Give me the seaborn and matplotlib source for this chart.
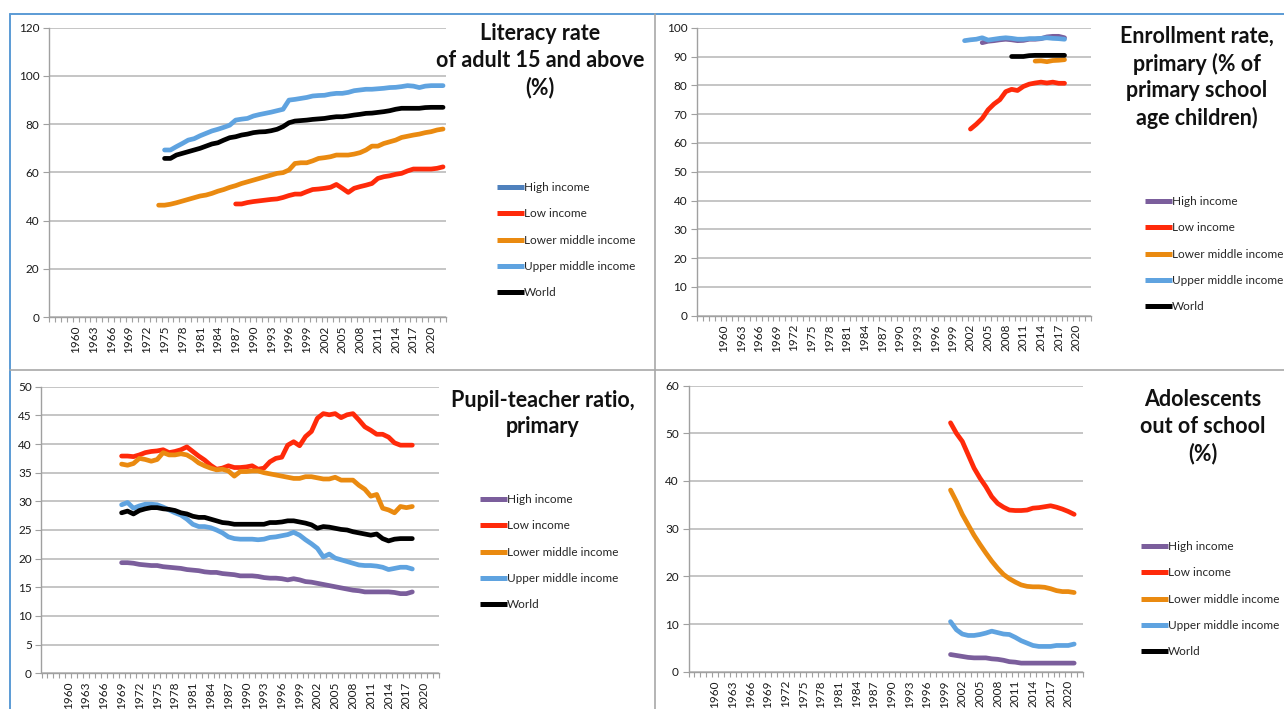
import numpy as np
import pandas as pd
import matplotlib
matplotlib.use('Agg')
import matplotlib.pyplot as plt
from matplotlib.lines import Line2D
import seaborn as sns

# ---- data ----
groups = ['High income', 'Low income', 'Lower middle income',
          'Upper middle income', 'World']

# literacy rate, adult 15+ (%)
lit_years_upper = list(range(1975, 2023))
lit_upper = [69.3, 69.3, 70.7, 72, 73.4, 74, 75.2, 76.2, 77.2, 77.9,
             78.7, 79.6, 81.7, 82.1, 82.4, 83.4, 84, 84.5, 85, 85.6,
             86.2, 90, 90.3, 90.7, 91.1, 91.7, 91.9, 92, 92.5, 92.8,
             92.8, 93.2, 93.9, 94.2, 94.5, 94.5, 94.7, 94.9, 95.2, 95.3,
             95.6, 96, 95.8, 95.2, 95.8, 96, 96, 96]
lit_years_world = list(range(1975, 2023))
lit_world = [65.8, 65.8, 67.2, 67.9, 68.6, 69.3, 70, 70.9, 71.8, 72.3,
             73.4, 74.4, 74.8, 75.5, 75.9, 76.5, 76.8, 76.9, 77.3, 77.9,
             79, 80.6, 81.3, 81.5, 81.7, 82, 82.2, 82.4, 82.8, 83.1,
             83.1, 83.4, 83.8, 84.1, 84.5, 84.6, 84.9, 85.2, 85.6, 86.2,
             86.6, 86.6, 86.6, 86.6, 86.9, 87, 87, 87]
lit_years_lower = list(range(1974, 2023))
lit_lower = [46.4, 46.4, 46.8, 47.4, 48.1, 48.8, 49.5, 50.2, 50.6, 51.3,
             52.2, 52.9, 53.8, 54.5, 55.4, 56.1, 56.8, 57.5, 58.2, 58.9,
             59.6, 59.9, 61, 63.7, 64, 64, 64.8, 65.8, 66.1, 66.5,
             67.2, 67.2, 67.2, 67.6, 68.2, 69.3, 70.9, 70.9, 72, 72.7,
             73.4, 74.5, 75, 75.5, 75.9, 76.5, 76.9, 77.6, 78]
lit_years_low = list(range(1987, 2023))
lit_low = [46.9, 46.9, 47.5, 47.9, 48.2, 48.5, 48.8, 49, 49.6, 50.4,
           51, 51, 52, 52.9, 53.1, 53.4, 53.8, 55, 53.4, 51.7,
           53.4, 54.1, 54.7, 55.4, 57.5, 58.2, 58.6, 59.2, 59.6, 60.6,
           61.4, 61.4, 61.4, 61.4, 61.7, 62.3]

# enrollment rate, primary (%)
enr_years_upper = list(range(2001, 2019))
enr_upper = [95.5, 95.8, 96, 96.5, 95.7, 96, 96.3, 96.5, 96.3, 96,
             96, 96.2, 96.2, 96.3, 96.5, 96.3, 96.2, 96]
enr_years_high = list(range(2004, 2019))
enr_high = [94.8, 95.3, 95.5, 95.8, 96, 95.8, 95.5, 95.6, 96, 96,
            96.2, 96.8, 97, 97, 96.5]
enr_years_world = list(range(2009, 2019))
enr_world = [90, 90, 90, 90.3, 90.4, 90.4, 90.4, 90.4, 90.4, 90.4]
enr_years_lower = list(range(2013, 2019))
enr_lower = [88.4, 88.5, 88.2, 88.6, 88.7, 88.9]
enr_years_low = list(range(2002, 2019))
enr_low = [64.8, 66.5, 68.5, 71.5, 73.5, 75, 77.8, 78.6, 78.2, 79.6,
           80.4, 80.8, 81.1, 80.8, 81.1, 80.7, 80.7]

# pupil-teacher ratio, primary
ptr_years = list(range(1969, 2019))
ptr_low = [37.9, 37.9, 37.8, 38.1, 38.5, 38.7, 38.8, 39, 38.5, 38.7,
           39, 39.5, 38.7, 37.9, 37.2, 36.3, 35.6, 35.8, 36.2, 35.9,
           35.9, 36, 36.2, 35.6, 35.8, 36.9, 37.5, 37.7, 39.8, 40.4,
           39.7, 41.3, 42.2, 44.5, 45.3, 45.1, 45.3, 44.6, 45.1, 45.3,
           44.2, 43, 42.4, 41.7, 41.7, 41.2, 40.2, 39.8, 39.8, 39.8]
ptr_lower = [36.5, 36.3, 36.6, 37.5, 37.3, 37, 37.3, 38.5, 38.1, 38.1,
             38.3, 38.1, 37.5, 36.7, 36.2, 35.8, 35.5, 35.6, 35.3, 34.4,
             35.2, 35.2, 35.3, 35.3, 35, 34.8, 34.6, 34.4, 34.2, 34,
             34, 34.3, 34.3, 34.1, 33.9, 33.9, 34.2, 33.7, 33.7, 33.7,
             32.8, 32.1, 30.9, 31.2, 28.8, 28.5, 28, 29.1, 28.9, 29.1]
ptr_upper = [29.4, 29.8, 28.8, 29.2, 29.5, 29.5, 29.4, 29, 28.5, 28,
             27.6, 26.9, 26, 25.6, 25.6, 25.4, 25, 24.5, 23.8, 23.5,
             23.4, 23.4, 23.4, 23.3, 23.4, 23.7, 23.8, 24, 24.2, 24.6,
             24.1, 23.3, 22.6, 21.8, 20.3, 20.8, 20.1, 19.8, 19.5, 19.2,
             18.9, 18.8, 18.8, 18.7, 18.5, 18.1, 18.3, 18.5, 18.5, 18.2]
ptr_world = [28, 28.3, 27.8, 28.4, 28.7, 28.9, 28.9, 28.7, 28.6, 28.4,
             28, 27.8, 27.4, 27.2, 27.2, 26.9, 26.6, 26.3, 26.2, 26,
             26, 26, 26, 26, 26, 26.3, 26.3, 26.4, 26.6, 26.6,
             26.4, 26.2, 25.9, 25.3, 25.6, 25.5, 25.3, 25.1, 25, 24.7,
             24.5, 24.3, 24.1, 24.3, 23.5, 23.1, 23.4, 23.5, 23.5, 23.5]
ptr_high = [19.3, 19.3, 19.2, 19, 18.9, 18.8, 18.8, 18.6, 18.5, 18.4,
            18.3, 18.1, 18, 17.9, 17.7, 17.6, 17.6, 17.4, 17.3, 17.2,
            17, 17, 17, 16.9, 16.7, 16.6, 16.6, 16.5, 16.3, 16.5,
            16.3, 16, 15.9, 15.7, 15.5, 15.3, 15.1, 14.9, 14.7, 14.5,
            14.4, 14.2, 14.2, 14.2, 14.2, 14.2, 14.1, 13.9, 13.9, 14.2]

# adolescents out of school (%)
oos_years = list(range(2000, 2022))
oos_low = [52.2, 50, 48.3, 45.5, 42.7, 40.6, 38.8, 36.7, 35.3, 34.5,
           33.9, 33.8, 33.8, 33.9, 34.3, 34.4, 34.6, 34.8, 34.5, 34.1,
           33.6, 33]
oos_lower = [38.1, 35.7, 33, 30.8, 28.6, 26.7, 24.9, 23.2, 21.7, 20.4,
             19.5, 18.8, 18.2, 17.9, 17.8, 17.8, 17.7, 17.4, 17, 16.8,
             16.8, 16.6]
oos_upper = [10.5, 8.8, 7.9, 7.6, 7.6, 7.8, 8.1, 8.5, 8.2, 7.9,
             7.8, 7.2, 6.5, 6, 5.5, 5.3, 5.3, 5.3, 5.5, 5.5,
             5.5, 5.8]
oos_high = [3.6, 3.4, 3.2, 3, 2.9, 2.9, 2.9, 2.7, 2.6, 2.4,
            2.1, 2, 1.8, 1.8, 1.8, 1.8, 1.8, 1.8, 1.8, 1.8,
            1.8, 1.8]

year_labels = list(range(1960, 2021, 3))

colors = {'High income': '#7B5E9C', 'Low income': '#FF2A0A',
          'Lower middle income': '#EA8A10', 'Upper middle income': '#5FA3E0',
          'World': '#000000'}
colors_lit = dict(colors)
colors_lit['High income'] = '#4F81BD'


def long_df(parts):
    frames = []
    for name, yrs, vals in parts:
        frames.append(pd.DataFrame({'year': yrs, 'value': vals, 'group': name}))
    return pd.concat(frames, ignore_index=True)


sns.set_theme(style='white')
plt.rcParams['font.family'] = ['Lato', 'DejaVu Sans']

W, H = 1284, 709
fig = plt.figure(figsize=(W / 100, H / 100), dpi=100)


def px_rect(l, t, r, b):
    return [l / W, 1 - b / H, (r - l) / W, (b - t) / H]


def panel(rect, df, ymax, ystep, palette, title, title_c, leg_tl):
    ax = fig.add_axes(px_rect(*rect))
    present = [g for g in groups if g in set(df['group'])]
    sns.lineplot(data=df, x='year', y='value', hue='group', hue_order=present,
                 palette=palette, estimator=None, legend=False, ax=ax,
                 linewidth=3.4, solid_capstyle='round', solid_joinstyle='round')
    ax.set_xlim(1955.5, 2022.5)
    ax.set_ylim(0, ymax)
    ax.set_yticks(np.arange(0, ymax + 0.1, ystep))
    ax.set_yticklabels([f'{v:g}' for v in np.arange(0, ymax + 0.1, ystep)])
    ax.set_xticks(year_labels)
    ax.set_xticklabels([str(y) for y in year_labels], rotation=90)
    ax.set_xticks(np.arange(1955.5, 2023, 1), minor=True)
    ax.tick_params(axis='x', which='major', length=0, pad=6, labelsize=8.5,
                   labelcolor='#1a1a1a')
    ax.tick_params(axis='x', which='minor', length=3.5, width=0.8,
                   color='#a0a0a0', bottom=True)
    ax.tick_params(axis='y', which='major', length=4, width=0.8,
                   color='#a0a0a0', left=True, pad=3, labelsize=8.5,
                   labelcolor='#1a1a1a')
    ax.yaxis.grid(True, color='#b5b5b5', linewidth=1.1)
    ax.xaxis.grid(False)
    for s in ['top', 'right']:
        ax.spines[s].set_visible(False)
    for s in ['left', 'bottom']:
        ax.spines[s].set_color('#a0a0a0')
        ax.spines[s].set_linewidth(1.0)
    ax.set_xlabel('')
    ax.set_ylabel('')
    ax.set_axisbelow(True)

    fig.text(title_c[0] / W, 1 - title_c[1] / H, title, ha='center', va='center',
             multialignment='center', fontsize=15.5, fontweight='bold',
             linespacing=1.32, color='#111111')

    handles = [Line2D([0], [0], color=palette[g], lw=3.6, solid_capstyle='butt')
               for g in groups]
    fig.legend(handles, groups, loc='upper left',
               bbox_to_anchor=(leg_tl[0] / W, 1 - leg_tl[1] / H),
               frameon=False, fontsize=8.5, handlelength=2.3,
               handletextpad=0.0, labelspacing=1.3, borderpad=0,
               borderaxespad=0)
    return ax


# panel 1: literacy
df1 = long_df([('Low income', lit_years_low, lit_low),
               ('Lower middle income', lit_years_lower, lit_lower),
               ('Upper middle income', lit_years_upper, lit_upper),
               ('World', lit_years_world, lit_world)])
panel((49, 27.8, 446, 317), df1, 120, 20, colors_lit,
      'Literacy rate\nof adult 15 and above\n(%)', (540, 60.5), (497, 182))

# panel 2: enrollment
df2 = long_df([('High income', enr_years_high, enr_high),
               ('Low income', enr_years_low, enr_low),
               ('Lower middle income', enr_years_lower, enr_lower),
               ('Upper middle income', enr_years_upper, enr_upper),
               ('World', enr_years_world, enr_world)])
panel((697, 27.7, 1091, 315.7), df2, 100, 10, colors,
      'Enrollment rate,\nprimary (% of\nprimary school\nage children)',
      (1197, 77.5), (1145, 196))

# panel 3: pupil-teacher ratio
df3 = long_df([('High income', ptr_years, ptr_high),
               ('Low income', ptr_years, ptr_low),
               ('Lower middle income', ptr_years, ptr_lower),
               ('Upper middle income', ptr_years, ptr_upper),
               ('World', ptr_years, ptr_world)])
panel((41.5, 386.7, 439, 673.3), df3, 50, 5, colors,
      'Pupil-teacher ratio,\nprimary', (543, 413.5), (480, 494))

# panel 4: adolescents out of school
df4 = long_df([('High income', oos_years, oos_high),
               ('Low income', oos_years, oos_low),
               ('Lower middle income', oos_years, oos_lower),
               ('Upper middle income', oos_years, oos_upper)])
panel((688.5, 385.6, 1083, 671.7), df4, 60, 10, colors,
      'Adolescents\nout of school\n(%)', (1203, 426.5), (1141, 541))

# frame lines of the four chart boxes
blue = '#5B9BD5'
grey = '#a8a8a8'
fig.add_artist(Line2D([10 / W, 1], [1 - 13.5 / H] * 2, color=blue, lw=1.4,
                      transform=fig.transFigure))
fig.add_artist(Line2D([10 / W] * 2, [0, 1 - 13.5 / H], color=blue, lw=1.4,
                      transform=fig.transFigure))
fig.add_artist(Line2D([655 / W] * 2, [0, 1 - 13.5 / H], color=grey, lw=1.2,
                      transform=fig.transFigure))
fig.add_artist(Line2D([10 / W, 1], [1 - 370 / H] * 2, color=grey, lw=1.2,
                      transform=fig.transFigure))

fig.savefig('out.png', dpi=100)
